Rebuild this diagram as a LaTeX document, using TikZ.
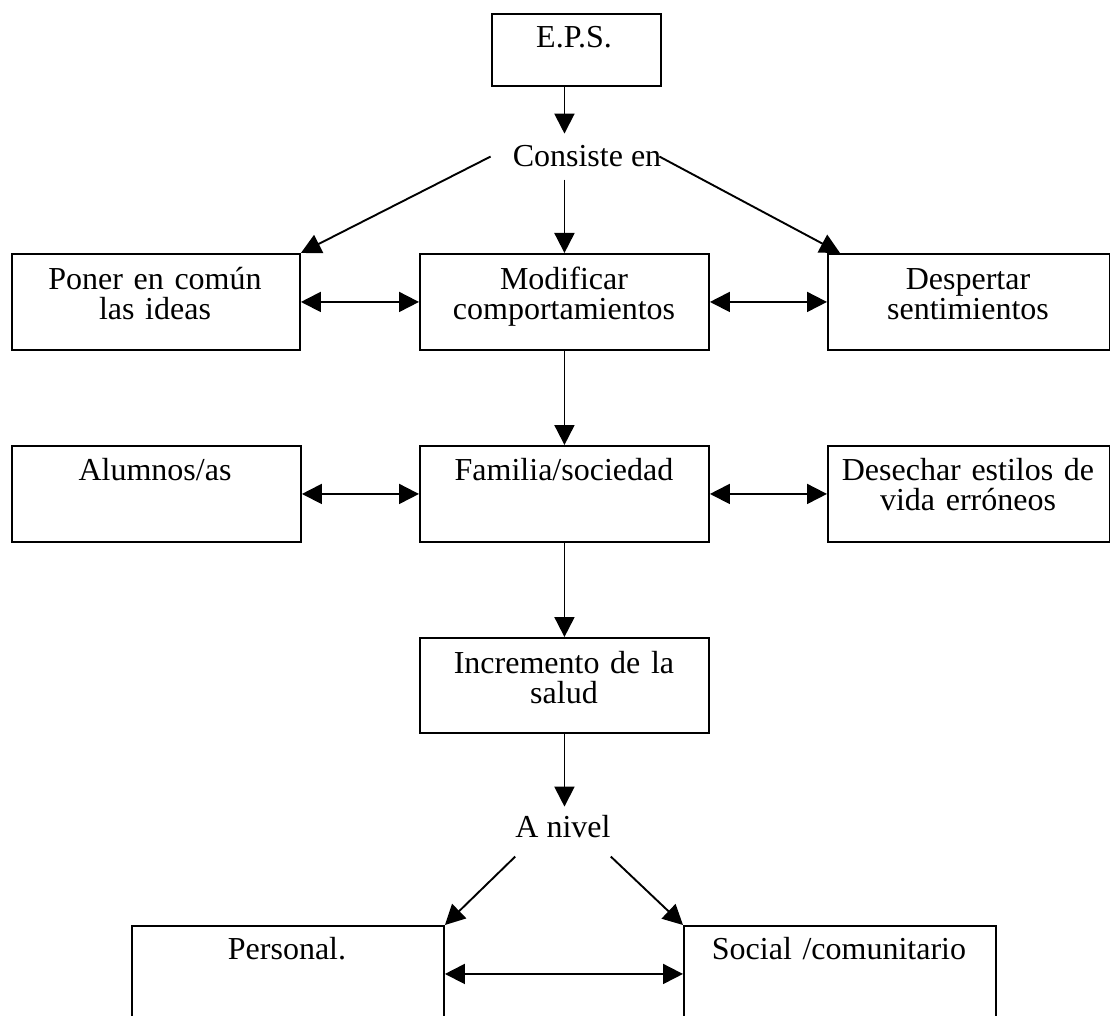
\documentclass[tikz,border=0pt]{standalone}
\usepackage{fontspec}
\setmainfont{Liberation Serif}
\usetikzlibrary{arrows.meta}
\begin{document}
\begin{tikzpicture}[x=1pt,y=-1pt,
  box/.style={draw, line width=1.9pt, rectangle, inner sep=0pt, anchor=north west},
  txt/.style={font=\fontsize{32}{30.5}\selectfont, align=center, text width=280pt, inner sep=0pt, anchor=base},
  lbl/.style={font=\fontsize{32}{30.5}\selectfont, anchor=base, inner xsep=22pt, inner ysep=12pt},
  link/.style={line width=1.9pt, -{Triangle[length=20pt,width=20pt]}},
  both/.style={line width=1.9pt, {Triangle[length=20pt,width=20pt]}-{Triangle[length=20pt,width=20pt]}}]
\useasboundingbox (0,0) rectangle (1110,1016);

% boxes
\node[box, minimum width=169pt, minimum height=72pt] (eps) at (491,13) {};
\node[box, minimum width=288pt, minimum height=96pt] (poner) at (11,253) {};
\node[box, minimum width=289pt, minimum height=96pt] (modif) at (419,253) {};
\node[box, minimum width=282pt, minimum height=96pt] (desp) at (827,253) {};
\node[box, minimum width=289pt, minimum height=96pt] (alum) at (11,445) {};
\node[box, minimum width=289pt, minimum height=96pt] (fam) at (419,445) {};
\node[box, minimum width=282pt, minimum height=96pt] (desech) at (827,445) {};
\node[box, minimum width=289pt, minimum height=95pt] (incr) at (419,637) {};
\node[box, minimum width=312pt, minimum height=96pt] (pers) at (131,925) {};
\node[box, minimum width=312pt, minimum height=96pt] (soc) at (683,925) {};

% box texts
\node[txt] (epsT) at (574,48) {E.P.S.};
\node[txt] (ponerT) at (155,289) {Poner en común\\las ideas};
\node[txt] (modifT) at (564,289) {Modificar\\comportamientos};
\node[txt] (despT) at (968,289) {Despertar\\sentimientos};
\node[txt] (alumT) at (155,480) {Alumnos/as};
\node[txt] (famT) at (564,480) {Familia/sociedad};
\node[txt] (desechT) at (968,480) {Desechar estilos de\\vida erróneos};
\node[txt] (incrT) at (564,673) {Incremento de la\\salud};
\node[txt] (persT) at (287,959) {Personal.};
\node[txt] (socT) at (839,959) {Social /comunitario};

% free labels
\node[lbl] (cons) at (587,167) {Consiste en};
\node[lbl, inner xsep=0pt, inner ysep=8pt] (aniv) at (563,837) {A nivel};

% connectors
\draw[link] (eps.south -| modif.north) -- (cons.north -| modif.north);
\draw[link] (cons.south -| modif.north) -- (modif.north);
\draw[link] (cons.west) -- (poner.north east);
\draw[link] ([xshift=-24pt]cons.east) -- ([xshift=13pt]desp.north west);

\draw[both] (poner.east) -- (modif.west);
\draw[both] (modif.east) -- (desp.west);
\draw[link] (modif.south) -- (fam.north);
\draw[both] (alum.east) -- (fam.west);
\draw[both] (fam.east) -- (desech.west);
\draw[link] (fam.south) -- (incr.north);
\draw[link] (incr.south) -- (aniv.north -| incr.north);
\draw[link] ([yshift=-11pt]aniv.south west) -- (pers.north east);
\draw[link] ([yshift=-11pt]aniv.south east) -- (soc.north west);
\draw[both] (pers.east) -- (soc.west);
\end{tikzpicture}
\end{document}
